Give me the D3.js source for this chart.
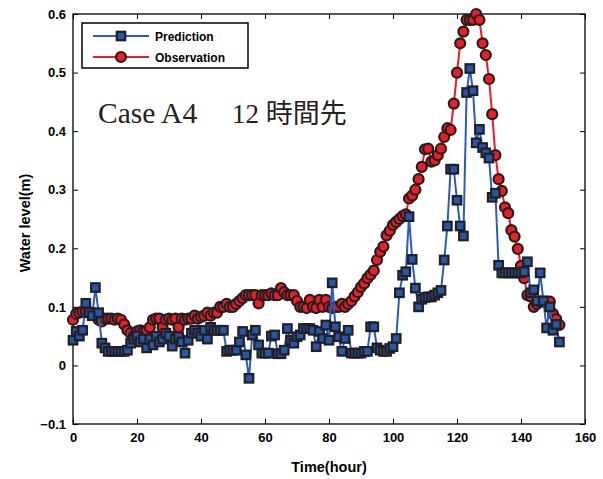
<!DOCTYPE html>
<html>
<head>
<meta charset="utf-8">
<script src="https://cdn.jsdelivr.net/npm/d3@7"></script>
<style>
  html, body { margin: 0; padding: 0; background: #fff; }
  svg { display: block; }
</style>
</head>
<body>
<svg id="chart" width="603" height="479"></svg>
<script>
// Hourly water level, hours 0..152
const hours = d3.range(0, 153);

const observation = [
  0.078, 0.088, 0.090, 0.092, 0.092, 0.090, 0.090, 0.088, 0.078, 0.075,
  0.080, 0.080, 0.080, 0.078, 0.080, 0.078, 0.070, 0.060, 0.055, 0.050,
  0.058, 0.060, 0.058, 0.060, 0.065, 0.078, 0.080, 0.080, 0.065, 0.078,
  0.080, 0.078, 0.080, 0.065, 0.080, 0.078, 0.080, 0.080, 0.085, 0.080,
  0.083, 0.085, 0.090, 0.085, 0.090, 0.090, 0.100, 0.100, 0.105, 0.100,
  0.100, 0.105, 0.110, 0.115, 0.120, 0.120, 0.120, 0.120, 0.106, 0.120,
  0.120, 0.120, 0.123, 0.120, 0.120, 0.132, 0.125, 0.120, 0.120, 0.120,
  0.110, 0.100, 0.100, 0.098, 0.112, 0.100, 0.098, 0.112, 0.100, 0.112,
  0.100, 0.098, 0.100, 0.100, 0.105, 0.100, 0.105, 0.110, 0.118, 0.125,
  0.134, 0.140, 0.149, 0.155, 0.162, 0.180, 0.194, 0.203, 0.222, 0.230,
  0.240, 0.245, 0.250, 0.255, 0.258, 0.285, 0.290, 0.300, 0.318, 0.339,
  0.369, 0.370, 0.348, 0.350, 0.359, 0.370, 0.390, 0.405, 0.402, 0.447,
  0.500, 0.550, 0.570, 0.590, 0.590, 0.590, 0.600, 0.590, 0.550, 0.530,
  0.489, 0.429, 0.359, 0.318, 0.298, 0.270, 0.260, 0.231, 0.220, 0.199,
  0.170, 0.149, 0.120, 0.118, 0.100, 0.105, 0.109, 0.109, 0.109, 0.109,
  0.088, 0.079, 0.069
];

const prediction = [
  0.043, 0.058, 0.050, 0.060, 0.106, 0.090, 0.085, 0.133, 0.090, 0.038,
  0.030, 0.024, 0.024, 0.024, 0.024, 0.024, 0.024, 0.026, 0.038, 0.045,
  0.050, 0.040, 0.045, 0.030, 0.045, 0.035, 0.050, 0.040, 0.045, 0.055,
  0.050, 0.033, 0.045, 0.049, 0.040, 0.021, 0.043, 0.055, 0.060, 0.055,
  0.050, 0.060, 0.045, 0.065, 0.060, 0.060, 0.060, 0.060, 0.024, 0.026,
  0.026, 0.026, 0.040, 0.058, 0.018, -0.022, 0.052, 0.060, 0.035, 0.021,
  0.021, 0.021, 0.050, 0.052, 0.020, 0.020, 0.026, 0.063, 0.043, 0.038,
  0.049, 0.052, 0.063, 0.063, 0.063, 0.060, 0.032, 0.058, 0.046, 0.069,
  0.043, 0.141, 0.066, 0.049, 0.024, 0.046, 0.060, 0.021, 0.021, 0.021,
  0.021, 0.024, 0.024, 0.066, 0.066, 0.030, 0.026, 0.024, 0.024, 0.029,
  0.032, 0.046, 0.124, 0.154, 0.160, 0.254, 0.181, 0.132, 0.100, 0.113,
  0.116, 0.117, 0.117, 0.120, 0.124, 0.128, 0.180, 0.238, 0.335, 0.335,
  0.282, 0.238, 0.221, 0.466, 0.507, 0.469, 0.380, 0.403, 0.372, 0.363,
  0.354, 0.287, 0.294, 0.171, 0.158, 0.158, 0.158, 0.158, 0.158, 0.158,
  0.158, 0.160, 0.177, 0.124, 0.129, 0.110, 0.158, 0.110, 0.064, 0.100,
  0.060, 0.070, 0.040
];

const xTicks = [0, 20, 40, 60, 80, 100, 120, 140, 160];
const yTicks = [-0.1, 0, 0.1, 0.2, 0.3, 0.4, 0.5, 0.6];
const seriesNames = ["Prediction", "Observation"];

const blueLine = "#2a5cb8", blueFill = "#2557a8";
const redLine = "#ec1c24", redFill = "#ee1c25";
const edge = "#231f20";

const svg = d3.select("#chart");
const plotL = 73, plotR = 585, plotT = 14, plotB = 424;

const x = d3.scaleLinear().domain([0, 160]).range([plotL, plotR]);
const y = d3.scaleLinear().domain([-0.1, 0.6]).range([plotB, plotT]);

const tickFont = "'Liberation Sans', Arial, sans-serif";

// frame
svg.append("rect")
  .attr("x", plotL).attr("y", plotT)
  .attr("width", plotR - plotL).attr("height", plotB - plotT)
  .attr("fill", "#fff").attr("stroke", "#000").attr("stroke-width", 1.3);

// axes with inward ticks
const xAxisB = d3.axisBottom(x).tickValues(xTicks).tickSize(-5).tickPadding(9).tickFormat(d3.format("d"));
const xAxisT = d3.axisTop(x).tickValues(xTicks).tickSize(-5).tickFormat("");
const yAxisL = d3.axisLeft(y).tickValues(yTicks).tickSize(-5).tickPadding(7)
  .tickFormat(d => Math.abs(d) < 1e-9 ? "0" : (d < 0 ? "\u22120.1" : d3.format(".1f")(d)));
const yAxisR = d3.axisRight(y).tickValues(yTicks).tickSize(-5).tickFormat("");

function styleAxis(g) {
  g.select(".domain").remove();
  g.selectAll(".tick line").attr("stroke", "#000").attr("stroke-width", 1);
  g.selectAll(".tick text")
    .attr("fill", "#000")
    .style("font-family", tickFont)
    .style("font-weight", "bold")
    .style("font-size", "13px");
}

svg.append("g").attr("transform", `translate(0,${plotB})`).call(xAxisB).call(styleAxis);
svg.append("g").attr("transform", `translate(0,${plotT})`).call(xAxisT).call(styleAxis);
svg.append("g").attr("transform", `translate(${plotL},0)`).call(yAxisL).call(styleAxis);
svg.append("g").attr("transform", `translate(${plotR},0)`).call(yAxisR).call(styleAxis);

// axis titles
svg.append("text")
  .attr("x", (plotL + plotR) / 2).attr("y", 472)
  .attr("text-anchor", "middle")
  .style("font-family", tickFont).style("font-weight", "bold").style("font-size", "14.5px")
  .text("Time(hour)");

svg.append("text")
  .attr("transform", `translate(30,${(plotT + plotB) / 2 + 4}) rotate(-90)`)
  .attr("text-anchor", "middle")
  .style("font-family", tickFont).style("font-weight", "bold").style("font-size", "14.5px")
  .text("Water level(m)");

const plot = svg.append("g");

const line = d3.line().x((d, i) => x(hours[i])).y(d => y(d));

// observation series
plot.append("path")
  .datum(observation)
  .attr("d", line)
  .attr("fill", "none").attr("stroke", redLine).attr("stroke-width", 2);

plot.append("g").selectAll("circle")
  .data(observation)
  .join("circle")
  .attr("cx", (d, i) => x(hours[i]))
  .attr("cy", d => y(d))
  .attr("r", 5)
  .attr("fill", redFill).attr("stroke", edge).attr("stroke-width", 2.2);

// prediction series
plot.append("path")
  .datum(prediction)
  .attr("d", line)
  .attr("fill", "none").attr("stroke", blueLine).attr("stroke-width", 2);

const sq = 8.5;
plot.append("g").selectAll("rect")
  .data(prediction)
  .join("rect")
  .attr("x", (d, i) => x(hours[i]) - sq / 2)
  .attr("y", d => y(d) - sq / 2)
  .attr("width", sq).attr("height", sq)
  .attr("fill", blueFill).attr("stroke", edge).attr("stroke-width", 2.2);

// legend
const lg = svg.append("g");
lg.append("rect")
  .attr("x", 82).attr("y", 23).attr("width", 166).attr("height", 45)
  .attr("fill", "#fff").attr("stroke", "#000").attr("stroke-width", 1.5);

const legendRows = [
  { name: seriesNames[0], color: blueLine, y: 36, shape: "square" },
  { name: seriesNames[1], color: redLine, y: 57, shape: "circle" }
];
legendRows.forEach(r => {
  lg.append("line")
    .attr("x1", 93).attr("x2", 149).attr("y1", r.y).attr("y2", r.y)
    .attr("stroke", r.color).attr("stroke-width", 2);
  if (r.shape === "square") {
    lg.append("rect")
      .attr("x", 121 - sq / 2).attr("y", r.y - sq / 2)
      .attr("width", sq).attr("height", sq)
      .attr("fill", blueFill).attr("stroke", edge).attr("stroke-width", 2.2);
  } else {
    lg.append("circle")
      .attr("cx", 121).attr("cy", r.y).attr("r", 5)
      .attr("fill", redFill).attr("stroke", edge).attr("stroke-width", 2.2);
  }
  lg.append("text")
    .attr("x", 155).attr("y", r.y + 4.5)
    .style("font-family", tickFont).style("font-weight", "bold").style("font-size", "12px")
    .text(r.name);
});

// case annotation
const note = svg.append("text")
  .attr("y", 123)
  .style("font-family", "'Liberation Serif', 'Times New Roman', 'Noto Sans CJK JP', serif")
  .attr("fill", "#222");
note.append("tspan").attr("x", 98).style("font-size", "29.5px").text("Case A4");
note.append("tspan").attr("x", 232).style("font-size", "27px").text("12 時間先");
</script>
</body>
</html>
